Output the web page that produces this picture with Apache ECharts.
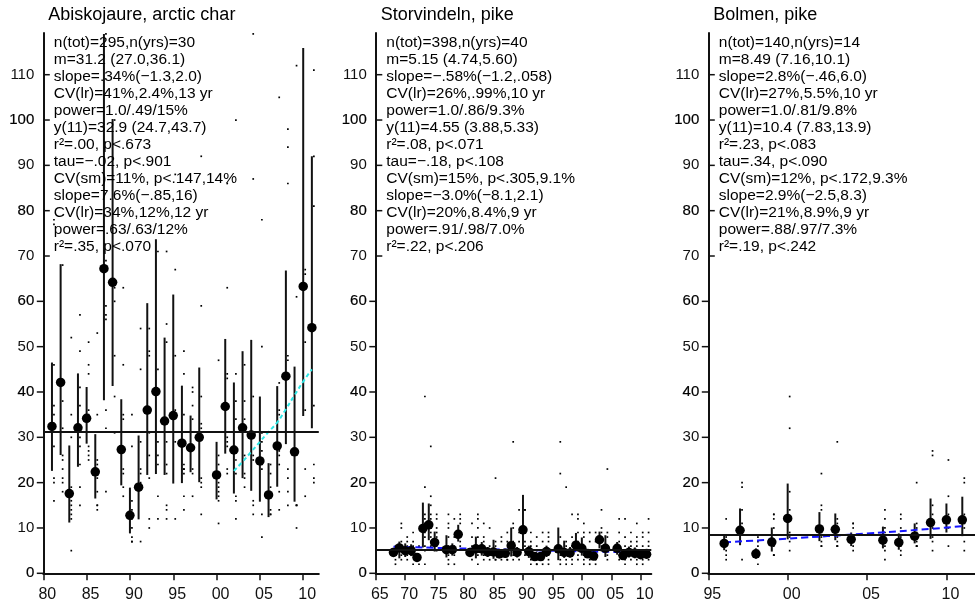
<!DOCTYPE html>
<html><head><meta charset="utf-8">
<style>html,body{margin:0;padding:0;background:#fff}#c{width:975px;height:605px}</style>
<script src="https://cdn.jsdelivr.net/npm/echarts@6/dist/echarts.min.js"></script>
</head><body><div id="c"></div>
<script>
// ---------------- DATA ----------------
const titles = ["Abiskojaure, arctic char", "Storvindeln, pike", "Bolmen, pike"];

const years1 = [1981,1982,1983,1984,1985,1986,1987,1988,1989,1990,1991,1992,1993,1994,1995,1996,1997,1998,2000,2001,2002,2003,2004,2005,2006,2007,2008,2009,2010,2011];
const means1 = [32.4,42.1,17.6,32.1,34.2,22.4,67.2,64.2,27.3,12.8,19.0,36.0,40.1,33.6,34.8,28.7,27.7,30.0,21.7,36.8,27.2,32.1,30.5,24.8,17.3,28.1,43.5,26.8,63.3,54.2];
const lo1 = [22.6,26.1,11.2,23.5,28.6,16.5,38.2,41.3,19.4,8.8,11.9,21.7,21.9,21.7,19.8,19.9,22.3,20.1,16.3,26.4,17.6,21.0,18.2,15.8,12.4,19.1,28.5,15.8,34.7,32.0];
const hi1 = [46.5,68.2,28.2,44.1,41.1,30.7,119,100.2,38.4,18.9,30.4,59.6,73.7,52.0,61.5,41.4,34.8,45.4,29.0,51.7,42.1,49.0,51.5,39.0,24.3,41.3,66.8,45.6,115.9,92.0];
const dots1 = [
  [1981,[78,77,46,37,35,33,28,21,20,16]],[1982,[68,38,32,26,25,23,21,20,18]],
  [1983,[52,35,30,19,17,16,15,14,13,12,5]],[1984,[57,49,41,37,30,28,24,19,15]],
  [1985,[51,46,44,36,35,28,27,26,25]],[1986,[53,35,25,24,23,21,18,15,15,14]],
  [1987,[119,69,59,57,56,36,32,18]],[1988,[100,63,60,48,39,31]],
  [1989,[63,46,35,34,23,22,19,17]],[1990,[35,28,16,14,12,10,8,7,7]],
  [1991,[54,45,29,23,22,20,7]],[1992,[54,49,48,31,26,21,12,10]],
  [1993,[71,45,40,29,26,24,17,12]],[1994,[71,55,51,29,24,22,15,14,12]],
  [1995,[88,67,48,36,29,12]],[1996,[49,44,35,24,23,23,22,17,14]],
  [1997,[41,40,37,34,23,22,17]],[1998,[92,59,39,33,32,21,20,19,13]],
  [2000,[47,26,24,20,19,18,17,16,11]],[2001,[86,63,44,43,30,29,28,23,22]],
  [2002,[100,44,38,34,25,22,17,16,12]],[2003,[46,38,34,32,26,22,21,19]],
  [2004,[119,87,39,26,25,16,15,13]],[2005,[78,50,31,29,27,25,24,23,13,8]],
  [2006,[24,22,19,17,14,13,13]],[2007,[105,42,36,35,28,27,26,24,18,14]],
  [2008,[98,94,86,48,47,23,21,18,15]],[2009,[112,61,15,15,15,10]],
  [2010,[67,66,51,36,23,17]],[2011,[111,92,81,37,24,21,20]]
];
const trendYears1 = [2002,2003,2004,2005,2006,2007,2008,2009,2010,2011];
const trendVals1 = [22.6,24.6,26.8,29.0,31.2,33.3,36.2,39.3,42.3,45.0];
const mean1 = 31.2;
const stats1 = ["n(tot)=295,n(yrs)=30","m=31.2 (27.0,36.1)","slope=.34%(\u22121.3,2.0)","CV(lr)=41%,2.4%,13 yr","power=1.0/.49/15%","y(11)=32.9 (24.7,43.7)","r\u00b2=.00, p<.673","tau=\u2212.02, p<.901","CV(sm)=11%, p<.147,14%","slope=7.6%(\u2212.85,16)","CV(lr)=34%,12%,12 yr","power=.63/.63/12%","r\u00b2=.35, p<.070"];

const years2 = [1968,1969,1970,1971,1972,1973,1974,1975,1977,1978,1979,1981,1982,1983,1984,1985,1986,1987,1988,1989,1990,1991,1992,1993,1994,1996,1997,1998,1999,2000,2001,2002,2003,2004,2006,2007,2008,2009,2010,2011];
const means2 = [4.6,5.6,5.0,5.0,3.5,9.9,10.7,6.8,5.2,5.2,8.6,4.6,5.4,5.4,4.7,4.7,4.3,4.4,6.1,4.6,9.6,4.8,3.7,3.7,4.8,5.4,4.6,4.5,6.2,5.5,4.3,3.8,7.4,5.5,5.5,3.9,4.6,4.4,4.1,4.2];
const lo2 = [3.9,3.3,3.6,3.8,2.5,5.7,7.3,4.8,3.5,3.9,7.0,3.7,3.3,3.9,3.6,3.2,3.3,3.5,3.7,3.5,5.1,3.4,2.8,2.9,3.6,2.9,3.4,3.5,4.9,3.9,3.4,3.0,5.5,3.6,4.1,3.0,3.5,3.3,3.3,3.3];
const hi2 = [5.6,7.0,6.6,6.4,4.4,15.6,15.4,9.2,8.4,6.6,10.7,5.6,8.1,6.9,5.8,7.4,5.3,5.4,10.1,5.8,17.3,6.1,4.7,4.6,6.1,10.1,7.2,5.8,8.9,7.9,5.4,4.7,9.2,8.4,6.9,5.0,5.9,5.7,5.0,5.4];
const dots2 = [
  [1968,[6,5,4,4,3,2]],[1969,[11,10,7,6,5,4,3]],[1970,[8,7,6,5,4,3]],[1971,[9,7,6,5,4,2]],
  [1972,[6,4,3,3,2]],[1973,[39,19,13,12,11,9,8,6,5,2]],[1974,[28,17,15,13,12,10,9,8,7,6]],
  [1975,[13,12,10,9,8,7,6,5]],[1977,[13,11,10,8,6,5,4,3,2]],[1978,[12,8,6,5,4,2]],
  [1979,[13,12,11,9,8,7,6]],[1981,[11,8,6,5,4,3]],[1982,[13,12,10,8,6,5,4,2]],
  [1983,[11,8,7,6,5,4,3]],[1984,[10,6,5,4,3]],[1985,[21,7,6,5,4,3,3]],[1986,[8,7,5,4,4,3]],
  [1987,[9,7,5,4,3,3]],[1988,[29,11,10,7,6,5,4,3]],[1989,[14,9,7,5,4,3]],
  [1990,[14,14,9,7,6,5,4]],[1991,[9,7,6,5,4,3,2]],[1992,[8,6,5,4,3,2,2]],
  [1993,[9,7,5,4,3,2]],[1994,[9,8,7,5,4,3,2]],[1996,[29,22,8,6,5,4,3,2]],
  [1997,[19,7,6,5,4,3,2]],[1998,[13,8,6,5,4,3,2]],[1999,[13,12,9,7,6,5,4,3]],
  [2000,[11,9,8,6,5,4,3,2]],[2001,[9,7,5,4,3,2]],[2002,[9,7,5,4,3,2]],
  [2003,[14,10,9,8,7,6,5]],[2004,[23,9,8,6,5,4,3]],[2006,[12,9,7,6,5,4,3]],
  [2007,[12,8,6,5,4,3,2]],[2008,[9,7,6,5,4,3]],[2009,[11,8,7,6,5,4,3,2]],
  [2010,[9,8,6,5,4,3,2]],[2011,[12,9,7,6,5,4,3]]
];
const trendYears2 = [1968,1975,1985,1995,2005,2011];
const trendVals2 = [5.85,5.62,5.30,5.00,4.72,4.56];
const mean2 = 5.15;
const stats2 = ["n(tot)=398,n(yrs)=40","m=5.15 (4.74,5.60)","slope=\u2212.58%(\u22121.2,.058)","CV(lr)=26%,.99%,10 yr","power=1.0/.86/9.3%","y(11)=4.55 (3.88,5.33)","r\u00b2=.08, p<.071","tau=\u2212.18, p<.108","CV(sm)=15%, p<.305,9.1%","slope=\u22123.0%(\u22128.1,2.1)","CV(lr)=20%,8.4%,9 yr","power=.91/.98/7.0%","r\u00b2=.22, p<.206"];

const years3 = [1996,1997,1998,1999,2000,2002,2003,2004,2006,2007,2008,2009,2010,2011];
const means3 = [6.6,9.5,4.3,6.9,12.1,9.8,9.7,7.5,7.3,6.8,8.2,11.2,11.8,11.8];
const lo3 = [5.1,6.2,3.2,4.8,7.5,7.1,7.3,6.0,5.5,5.2,6.6,7.6,9.0,8.2];
const hi3 = [8.5,14.3,5.5,10.1,19.8,13.5,13.2,9.0,10.3,8.8,11.0,16.5,15.4,16.9];
const dots3 = [
  [1996,[12,8,7,6,5,4,3]],[1997,[20,19,14,11,10,9,3]],[1998,[8,7,6,5,4,2]],
  [1999,[13,13,12,10,6,4,4,4]],[2000,[39,32,18,14,9,8,7,5]],[2002,[22,15,14,10,9,8,7,6,6]],
  [2003,[29,12,11,10,8,7,6,6,6]],[2004,[11,11,10,8,7,6,5]],[2006,[14,12,10,9,7,6,5,3]],
  [2007,[13,12,10,8,7,6,5,4]],[2008,[20,11,10,9,7,6,6,6]],[2009,[27,26,15,13,11,10,8,7,5]],
  [2010,[25,17,13,12,11,10,6]],[2011,[21,20,13,12,11,10,7,5]]
];
const trendYears3 = [1996,2000,2005,2009,2011];
const trendVals3 = [6.85,7.65,8.8,9.8,10.4];
const mean3 = 8.49;
const stats3 = ["n(tot)=140,n(yrs)=14","m=8.49 (7.16,10.1)","slope=2.8%(\u2212.46,6.0)","CV(lr)=27%,5.5%,10 yr","power=1.0/.81/9.8%","y(11)=10.4 (7.83,13.9)","r\u00b2=.23, p<.083","tau=.34, p<.090","CV(sm)=12%, p<.172,9.3%","slope=2.9%(\u22122.5,8.3)","CV(lr)=21%,8.9%,9 yr","power=.88/.97/7.3%","r\u00b2=.19, p<.242"];

const xTicks1 = [1980,1985,1990,1995,2000,2005,2010];
const xTicks2 = [1965,1970,1975,1980,1985,1990,1995,2000,2005,2010];
const xTicks3 = [1995,2000,2005,2010];
const yLabels = [0,10,20,30,40,50,60,70,80,90,100,110];
const yTicksOut = [0,10,20,30,40,50,60];
const yTicksIn = [70,80,90,100,110];

// ---------------- LAYOUT / STYLE ----------------
const FONT = '"Liberation Sans", Arial, Helvetica, sans-serif';
const LEFTS = [43.3, 375.8, 708.3];
const GRID_W = 275.5, GRID_TOP = 33, GRID_H = 540.3;
const XMAX = 2011.8, YMAX = 119.2;
const INK = '#111';

const panels = [
  {years:years1, means:means1, lo:lo1, hi:hi1, dots:dots1, tY:trendYears1, tV:trendVals1, tColor:'#2ee6e6', tDash:[4,3], mean:mean1, stats:stats1, xmin:1980, xticks:xTicks1},
  {years:years2, means:means2, lo:lo2, hi:hi2, dots:dots2, tY:trendYears2, tV:trendVals2, tColor:'#1515ff', tDash:[7,4], mean:mean2, stats:stats2, xmin:1965, xticks:xTicks2},
  {years:years3, means:means3, lo:lo3, hi:hi3, dots:dots3, tY:trendYears3, tV:trendVals3, tColor:'#1515ff', tDash:[7,4], mean:mean3, stats:stats3, xmin:1995, xticks:xTicks3}
];

const option = {animation:false, backgroundColor:'#fff', grid:[], xAxis:[], yAxis:[], series:[], graphic:[]};

panels.forEach((p, i) => {
  const L = LEFTS[i];
  option.grid.push({left:L, top:GRID_TOP, width:GRID_W, height:GRID_H});
  option.xAxis.push({
    type:'value', gridIndex:i, min:p.xmin, max:XMAX, interval:5,
    splitLine:{show:false},
    axisLine:{show:true, onZero:false, lineStyle:{color:INK, width:2}},
    axisTick:{show:true, length:7, customValues:p.xticks, lineStyle:{color:INK, width:1.5}},
    axisLabel:{customValues:p.xticks, formatter:v => String(v % 100).padStart(2,'0'),
      fontSize:16, fontFamily:FONT, color:INK, margin:13, padding:[0,0,0,8]}
  });
  option.yAxis.push({
    type:'value', gridIndex:i, position:'left', min:0, max:YMAX, splitLine:{show:false},
    axisLine:{show:true, onZero:false, lineStyle:{color:INK, width:2}},
    axisTick:{show:false},
    axisLabel:{customValues:yLabels, fontSize:15, fontFamily:FONT, color:INK, margin:9,
      formatter:v => (v % 20 === 0 ? '{b|' + v + '}' : '{n|' + v + '}'),
      rich:{
        b:{fontSize:15, fontFamily:FONT, color:'#000', textBorderColor:'#000', textBorderWidth:0.2},
        n:{fontSize:15, fontFamily:FONT, color:INK}
      }}
  });
  // y-axis tick marks drawn through the y scale: outward below 70, inward from 70 up
  const tickData = yTicksOut.map(v => [v, -1]).concat(yTicksIn.map(v => [v, 1]));
  option.series.push({
    type:'custom', xAxisIndex:i, yAxisIndex:i, data:tickData, encode:{y:0}, clip:false, silent:true, z:5,
    renderItem:(params, api) => {
      const x0 = params.coordSys.x;
      const y = api.coord([p.xmin, api.value(0)])[1];
      const dir = api.value(1);
      return {type:'line', shape:{x1:x0, y1:y, x2:x0 + dir * 6.5, y2:y}, style:{stroke:INK, lineWidth:1.5}};
    }
  });
  const dotData = [];
  p.dots.forEach(([yr, vals]) => vals.forEach(v => dotData.push([yr, v])));
  option.series.push({
    type:'scatter', xAxisIndex:i, yAxisIndex:i, data:dotData, symbol:'rect', symbolSize:1.7,
    symbolOffset:[2,0], itemStyle:{color:'#000', opacity:1}, silent:true, z:1
  });
  option.series.push({
    type:'custom', xAxisIndex:i, yAxisIndex:i,
    data:p.years.map((y, k) => [y, p.lo[k], p.hi[k]]),
    encode:{x:0, y:[1,2]},
    renderItem:(params, api) => {
      const a = api.coord([api.value(0), api.value(1)]);
      const b = api.coord([api.value(0), api.value(2)]);
      return {type:'line', shape:{x1:a[0], y1:a[1], x2:b[0], y2:b[1]}, style:{stroke:INK, lineWidth:2}};
    },
    silent:true, z:2
  });
  option.series.push({
    type:'line', xAxisIndex:i, yAxisIndex:i, data:p.tY.map((y,k)=>[y, p.tV[k]]),
    showSymbol:false, symbol:'none', smooth:true,
    lineStyle:{color:p.tColor, width:2, type:p.tDash, opacity:1}, silent:true, z:3,
    markLine:{silent:true, symbol:['none','none'], label:{show:false},
      lineStyle:{color:INK, width:1.8, type:'solid', opacity:1}, data:[{yAxis:p.mean}]}
  });
  option.series.push({
    type:'scatter', xAxisIndex:i, yAxisIndex:i, data:p.years.map((y,k)=>[y, p.means[k]]),
    symbol:'circle', symbolSize:9.5, itemStyle:{color:'#000', opacity:1}, silent:true, z:4
  });
  option.graphic.push({type:'text', left:L+5, top:6, z:10,
    style:{text:titles[i], fontSize:18, fontFamily:FONT, fill:'#000'}});
  option.graphic.push({type:'text', left:L+10.5, top:34.7, z:10,
    style:{text:p.stats.join('\n'), fontSize:15.5, lineHeight:16.95, fontFamily:FONT, fill:'#000'}});
});

const chart = echarts.init(document.getElementById('c'), null, {renderer:'canvas'});
chart.setOption(option);
</script></body></html>
